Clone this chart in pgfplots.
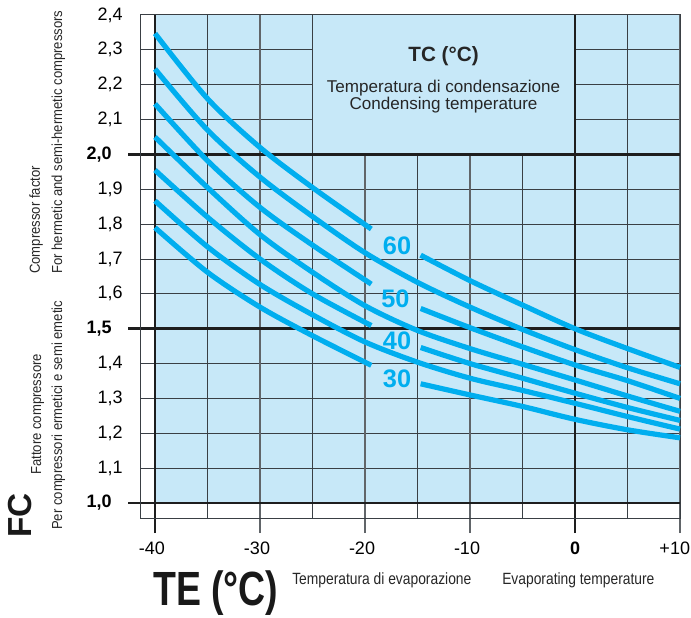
\documentclass[border=0pt]{standalone}
\usepackage{pgfplots}
\pgfplotsset{compat=1.18}
\usepackage{fontspec}
\setmainfont{Liberation Sans}
\definecolor{bgblue}{HTML}{C7E8F8}
\definecolor{curve}{HTML}{00AEEF}
\definecolor{gridc}{HTML}{3A3F44}
\definecolor{thickc}{HTML}{1E1E1E}
\pgfplotsset{curvestyle/.style={draw=curve, line width=3.9pt, smooth, no markers, line cap=butt}}
\begin{document}
\begin{tikzpicture}
\begin{axis}[
  at={(0,0)}, anchor=south west,
  scale only axis, width=405pt, height=377.25pt,
  xmin=-41.4286, xmax=10, ymin=0.95697, ymax=2.4,
  clip=false,
  axis line style={draw=none},
  major tick length=0pt,
  xtick={-40,-30,-20,-10,0,10},
  xticklabels={\llap{-}40,\llap{-}30,\llap{-}20,\llap{-}10,\textbf{0},\llap{+}10},
  ytick={1.0,1.1,1.2,1.3,1.4,1.5,1.6,1.7,1.8,1.9,2.0,2.1,2.2,2.3,2.4},
  yticklabels={{\textbf{1,0}\hspace*{8.25pt}},{1,1},{1,2},{1,3},{1,4},{\textbf{1,5}\hspace*{8.25pt}},{1,6},{1,7},{1,8},{1,9},{\textbf{2,0}\hspace*{8.25pt}},{2,1},{2,2},{2,3},{2,4}},
  xticklabel pos=lower, yticklabel pos=left,
  xticklabel style={anchor=north, inner sep=0pt, yshift=-18pt, font=\fontsize{13.5}{16}\selectfont},
  yticklabel style={anchor=east, inner sep=0pt, xshift=-12.75pt, font=\fontsize{13.5}{16}\selectfont},
  /pgf/number format/assume math mode=true,
]
% background
\fill[bgblue] (axis cs:-40,1) rectangle (axis cs:10,2.4);
% horizontal grid
\pgfplotsinvokeforeach{1.1,1.2,1.3,1.4,1.6,1.7,1.8,1.9,2.1,2.2,2.3}{
  \draw[gridc, line width=0.75pt] (axis cs:-41.4286,#1) -- (axis cs:10,#1);
}
% vertical grid
\pgfplotsinvokeforeach{-35,-25,-15,-5,5}{
  \draw[gridc, line width=0.75pt] (axis cs:#1,0.95697) -- (axis cs:#1,2.4);
}
\pgfplotsinvokeforeach{-30,-20,-10,10}{
  \draw[gridc!80, line width=0.9pt] (axis cs:#1,0.91394) -- (axis cs:#1,2.4);
}
% box
\fill[bgblue] (axis cs:-25,2.0) rectangle (axis cs:0,2.4);
\draw[gridc, line width=0.75pt] (axis cs:-25,2.0) -- (axis cs:-25,2.4);
% thick lines
\pgfplotsinvokeforeach{1.0,1.5,2.0}{
  \draw[thickc, line width=2.2pt] (axis cs:-42.571,#1) -- (axis cs:10,#1);
}
\pgfplotsinvokeforeach{-40,0}{
  \draw[thickc, line width=2.2pt] (axis cs:#1,0.91394) -- (axis cs:#1,2.4);
}
% frame
\draw[gridc, line width=0.75pt] (axis cs:-41.4286,0.95697) rectangle (axis cs:10,2.4);

% curves: TC = 60
\addplot[curvestyle] coordinates {(-40,2.347) (-35,2.160) (-30,2.020) (-25,1.905) (-19.4,1.786)};
\addplot[curvestyle] coordinates {(-14.7,1.711) (-10,1.638) (-5,1.568) (0,1.500) (5,1.443) (10,1.389)};
% 55
\addplot[curvestyle] coordinates {(-40,2.245) (-35,2.070) (-30,1.935) (-25,1.822) (-20,1.718) (-15,1.633) (-10,1.562) (-5,1.498) (0,1.440) (5,1.388) (10,1.342)};
% 50
\addplot[curvestyle] coordinates {(-40,2.145) (-35,1.982) (-30,1.848) (-25,1.740) (-19.4,1.628)};
\addplot[curvestyle] coordinates {(-14.7,1.558) (-10,1.503) (-5,1.448) (0,1.396) (5,1.351) (10,1.300)};
% 45
\addplot[curvestyle] coordinates {(-40,2.050) (-35,1.905) (-30,1.770) (-25,1.662) (-20,1.566) (-15,1.495) (-10,1.443) (-5,1.398) (0,1.353) (5,1.307) (10,1.263)};
% 40
\addplot[curvestyle] coordinates {(-40,1.955) (-35,1.820) (-30,1.700) (-25,1.600) (-19.4,1.509)};
\addplot[curvestyle] coordinates {(-14.7,1.446) (-10,1.400) (-5,1.358) (0,1.315) (5,1.274) (10,1.237)};
% 35
\addplot[curvestyle] coordinates {(-40,1.867) (-35,1.735) (-30,1.627) (-25,1.540) (-20,1.462) (-15,1.404) (-10,1.358) (-5,1.323) (0,1.286) (5,1.248) (10,1.212)};
% 30
\addplot[curvestyle] coordinates {(-40,1.790) (-35,1.662) (-30,1.562) (-25,1.480) (-19.4,1.395)};
\addplot[curvestyle] coordinates {(-14.7,1.342) (-10,1.310) (-5,1.277) (0,1.240) (5,1.210) (10,1.187)};

% curve labels
\node[text=curve, font=\fontsize{19}{19}\selectfont\bfseries] at (axis cs:-16.95,1.737) {60};
\node[text=curve, font=\fontsize{19}{19}\selectfont\bfseries] at (axis cs:-17.1,1.587) {50};
\node[text=curve, font=\fontsize{19}{19}\selectfont\bfseries] at (axis cs:-16.95,1.466) {40};
\node[text=curve, font=\fontsize{19}{19}\selectfont\bfseries] at (axis cs:-16.95,1.356) {30};

% box texts
\node[anchor=base, inner sep=0pt, font=\fontsize{15.5}{16}\selectfont\bfseries, text=black!85] at (axis cs:-12.52,2.268) {TC (°C)};
\node[anchor=base, inner sep=0pt, font=\fontsize{12.8}{14}\selectfont, text=black!85] at (axis cs:-12.52,2.179) {Temperatura di condensazione};
\node[anchor=base, inner sep=0pt, font=\fontsize{12.8}{14}\selectfont, text=black!85] at (axis cs:-12.52,2.130) {Condensing temperature};
\end{axis}

\begin{scope}[x=0.75pt,y=-0.75pt,shift={(-105pt,388.5pt)}]
  \node[rotate=90, anchor=base west, inner sep=0pt, text=black!90] at (32,538) {\fontsize{25}{25}\selectfont\bfseries FC};
  \node[rotate=90, anchor=base west, inner sep=0pt, text=black!85] at (41,475) {\scalebox{0.9}[1]{\fontsize{10.9}{12}\selectfont Fattore compressore}};
  \node[rotate=90, anchor=base west, inner sep=0pt, text=black!85] at (62,530) {\scalebox{0.9}[1]{\fontsize{10.9}{12}\selectfont Per compressori ermetici e semi emetic}};
  \node[rotate=90, anchor=base west, inner sep=0pt, text=black!85] at (40,274) {\scalebox{0.9}[1]{\fontsize{10.9}{12}\selectfont Compressor factor}};
  \node[rotate=90, anchor=base west, inner sep=0pt, text=black!85] at (62,274) {\scalebox{0.9}[1]{\fontsize{10.9}{12}\selectfont For hermetic and semi-hermetic compressors}};
  \node[anchor=base west, inner sep=0pt, text=black!90] at (153,605) {\scalebox{0.78}[1]{\fontsize{36}{36}\selectfont\bfseries TE (°C)}};
  \node[anchor=base west, inner sep=0pt, text=black!85] at (292,584) {\scalebox{0.85}[1]{\fontsize{12.2}{14}\selectfont Temperatura di evaporazione}};
  \node[anchor=base west, inner sep=0pt, text=black!85] at (502,584) {\scalebox{0.85}[1]{\fontsize{12.2}{14}\selectfont Evaporating temperature}};
  \pgfresetboundingbox
  \path[use as bounding box] (0,0) rectangle (691,617);
\end{scope}
\end{tikzpicture}
\end{document}
